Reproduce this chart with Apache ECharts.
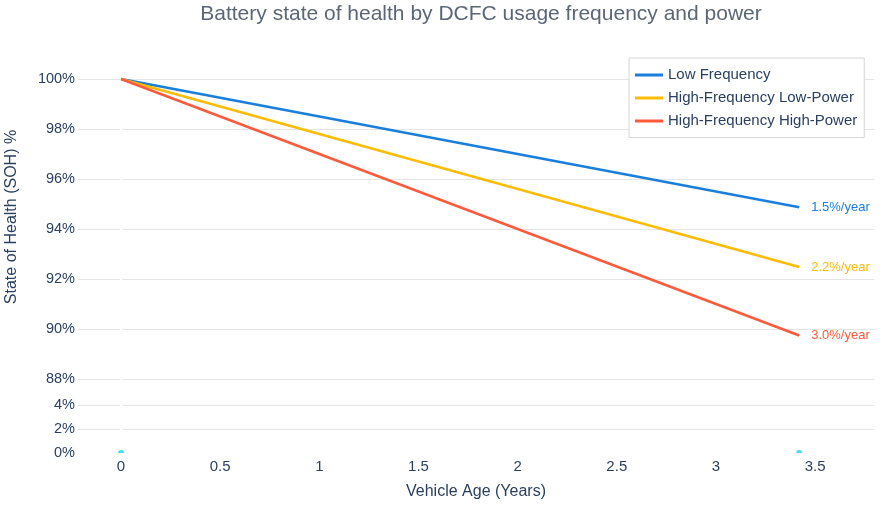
<!DOCTYPE html>
<html>
<head>
<meta charset="utf-8">
<script src="https://cdn.jsdelivr.net/npm/echarts@6/dist/echarts.min.js"></script>
<style>
html,body{margin:0;padding:0;background:#fff;}
#chart{width:886px;height:517px;}
</style>
</head>
<body>
<div id="chart"></div>
<script>
// ---- data ----
const years = [0, 3.42];
const lowFrequency = [100, 94.87];
const hfLowPower = [100, 92.48];
const hfHighPower = [100, 89.74];
const seriesNames = ['Low Frequency', 'High-Frequency Low-Power', 'High-Frequency High-Power'];
const rateLabels = ['1.5%/year', '2.2%/year', '3.0%/year'];
const markerYears = [0, 3.42];
const markerValues = [0, 0];
const yTickValues = [0, 2, 4, 88, 90, 92, 94, 96, 98, 100];
const yTickLabels = ['0%', '2%', '4%', '88%', '90%', '92%', '94%', '96%', '98%', '100%'];
const xTickValues = [0, 0.5, 1, 1.5, 2, 2.5, 3, 3.5];
const xTickLabels = ['0', '0.5', '1', '1.5', '2', '2.5', '3', '3.5'];

// broken (piecewise) y scale: 0–4 % compressed, 88–100 % expanded
function toAxis(v) {
  return v <= 4 ? v * 12 : 74 + (v - 88) * 25;
}

const colors = ['#1a7fdb', '#fbbc05', '#fb5b3c'];
const font = '"Liberation Sans", Arial, Helvetica, sans-serif';
const textColor = '#2a3f5f';

function pairs(xs, ys) { return xs.map((x, i) => [x, toAxis(ys[i])]); }

const lineData = [lowFrequency, hfLowPower, hfHighPower];
const lineSeries = lineData.map((vals, i) => ({
  name: seriesNames[i],
  type: 'line',
  data: pairs(years, vals),
  symbol: 'none',
  z: 3,
  lineStyle: { color: colors[i], width: 2.5 },
  itemStyle: { color: colors[i] },
  endLabel: {
    show: true,
    formatter: () => rateLabels[i],
    color: colors[i],
    fontSize: 13,
    fontFamily: font,
    distance: 12
  }
}));

const chart = echarts.init(document.getElementById('chart'), null, { renderer: 'canvas' });
chart.setOption({
  animation: false,
  backgroundColor: '#fff',
  title: {
    text: 'Battery state of health by DCFC usage frequency and power',
    left: 476,
    textAlign: 'center',
    top: 0,
    padding: [4, 5, 5, 5],
    textStyle: { color: '#5b6676', fontSize: 21, fontWeight: 'normal', fontFamily: font }
  },
  grid: { left: 78, right: 12, top: 60, bottom: 64, containLabel: false },
  legend: {
    data: seriesNames,
    orient: 'vertical',
    left: 629,
    top: 58,
    padding: [8.5, 7, 8, 6],
    itemWidth: 28,
    itemHeight: 3,
    itemGap: 6,
    icon: 'rect',
    borderColor: '#d6d6d6',
    borderWidth: 1,
    backgroundColor: '#fff',
    textStyle: { color: textColor, fontSize: 15, fontFamily: font, lineHeight: 17 }
  },
  xAxis: {
    type: 'value',
    min: -0.217,
    max: 3.797,
    axisLine: { show: false },
    axisTick: { show: false },
    splitLine: { show: false },
    axisLabel: {
      customValues: xTickValues,
      formatter: v => xTickLabels[xTickValues.indexOf(v)] ?? '',
      color: textColor, fontSize: 15, fontFamily: font, margin: 6
    },
    name: 'Vehicle Age (Years)',
    nameLocation: 'middle',
    nameGap: 31,
    nameTextStyle: { color: textColor, fontSize: 16, fontFamily: font }
  },
  yAxis: {
    type: 'value',
    min: 0,
    max: 393,
    axisLine: { show: false },
    axisTick: { show: false, customValues: yTickValues.map(toAxis) },
    splitLine: { show: true, lineStyle: { color: '#e5e5e5', width: 1 } },
    axisLabel: {
      customValues: yTickValues.map(toAxis),
      formatter: v => {
        const idx = yTickValues.map(toAxis).indexOf(v);
        return idx >= 0 ? yTickLabels[idx] : '';
      },
      color: textColor, fontSize: 14.5, fontFamily: font, margin: 3
    }
  },
  graphic: [{
    type: 'text',
    x: 12,
    y: 217,
    rotation: Math.PI / 2,
    style: {
      text: 'State of Health (SOH) %',
      fill: textColor,
      fontSize: 16,
      fontFamily: font,
      align: 'center',
      verticalAlign: 'middle'
    }
  }],
  series: [
    {
      name: 'zerolines',
      type: 'line',
      data: [],
      z: 1,
      silent: true,
      markLine: {
        silent: true,
        z: 1,
        symbol: 'none',
        label: { show: false },
        lineStyle: { color: '#ffffff', width: 2, type: 'solid' },
        data: [{ xAxis: 0 }, { yAxis: toAxis(0) }]
      }
    },
    ...lineSeries,
    {
      name: 'markers',
      type: 'scatter',
      data: pairs(markerYears, markerValues),
      symbol: 'path://M0,10 A10,10 0 0,1 20,10 Z',
      symbolSize: [6, 3],
      symbolOffset: [0, -1.5],
      itemStyle: { color: '#19d3f3' },
      z: 6,
      clip: false
    }
  ]
});
</script>
</body>
</html>
